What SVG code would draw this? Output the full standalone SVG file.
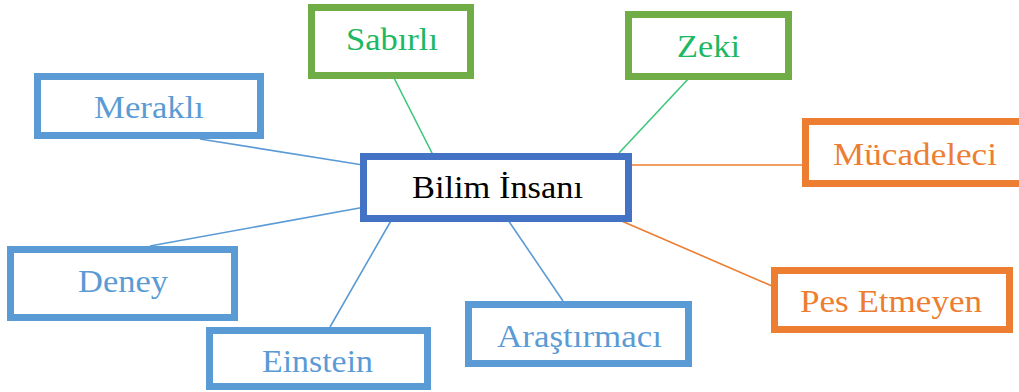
<svg xmlns="http://www.w3.org/2000/svg" width="1019" height="392" viewBox="0 0 1019 392">
<style>
.box{fill:#fff;stroke-width:7}
.blue{stroke:#5B9BD5}
.green{stroke:#70AD47}
.orange{stroke:#ED7D31}
.center{stroke:#4472C4}
.t{font-family:"Liberation Serif",serif;font-size:31px;lengthAdjust:spacingAndGlyphs}
.tb{fill:#5B9BD5}
.tg{fill:#1DB863}
.to{fill:#ED7D31}
.tk{fill:#000}
.c{stroke-width:1.6;fill:none}
.cg{stroke:#3CC878}
.cb{stroke:#5B9BD5}
.co{stroke:#ED7D31}
</style>
<rect width="1019" height="392" fill="#fff"/>
<g id="connectors">
<line class="c cg" x1="393" y1="76" x2="433" y2="155"/>
<line class="c cg" x1="690" y1="77" x2="619" y2="153"/>
<line class="c cb" x1="200" y1="139" x2="363" y2="165"/>
<line class="c cb" x1="150" y1="246" x2="365" y2="207"/>
<line class="c cb" x1="392" y1="219" x2="330" y2="327"/>
<line class="c cb" x1="508" y1="220" x2="563" y2="301"/>
<line class="c co" x1="628" y1="165" x2="802" y2="165"/>
<line class="c co" x1="617" y1="219" x2="772" y2="286"/>
</g>
<g id="node-bilim">
<rect class="box center" x="363.5" y="156.5" width="265" height="62"/>
<text class="t tk" x="412" y="198" font-size="32" textLength="171" lengthAdjust="spacingAndGlyphs">Bilim İnsanı</text>
</g>
<g id="node-sabirli">
<rect class="box green" x="311.5" y="7.5" width="159" height="68"/>
<text class="t tg" x="346" y="50" textLength="92" lengthAdjust="spacingAndGlyphs">Sabırlı</text>
</g>
<g id="node-zeki">
<rect class="box green" x="628.5" y="14.5" width="160" height="62"/>
<text class="t tg" x="677" y="57" textLength="63" lengthAdjust="spacingAndGlyphs">Zeki</text>
</g>
<g id="node-merakli">
<rect class="box blue" x="37.5" y="76.5" width="223" height="59"/>
<text class="t tb" x="94" y="118" textLength="110" lengthAdjust="spacingAndGlyphs">Meraklı</text>
</g>
<g id="node-mucadeleci">
<rect class="box orange" x="805.5" y="121.5" width="220" height="62"/>
<text class="t to" x="833" y="165" textLength="164" lengthAdjust="spacingAndGlyphs">Mücadeleci</text>
</g>
<g id="node-deney">
<rect class="box blue" x="10.5" y="249.5" width="224" height="68"/>
<text class="t tb" x="78" y="292" textLength="90" lengthAdjust="spacingAndGlyphs">Deney</text>
</g>
<g id="node-einstein">
<rect class="box blue" x="209.5" y="330.5" width="218" height="56"/>
<text class="t tb" x="262" y="372" textLength="111" lengthAdjust="spacingAndGlyphs">Einstein</text>
</g>
<g id="node-arastirmaci">
<rect class="box blue" x="468.5" y="304.5" width="220" height="59"/>
<text class="t tb" x="497" y="347" textLength="165" lengthAdjust="spacingAndGlyphs">Araştırmacı</text>
</g>
<g id="node-pes">
<rect class="box orange" x="774.5" y="270.5" width="235" height="59"/>
<text class="t to" x="800" y="312" textLength="182" lengthAdjust="spacingAndGlyphs">Pes Etmeyen</text>
</g>
</svg>
